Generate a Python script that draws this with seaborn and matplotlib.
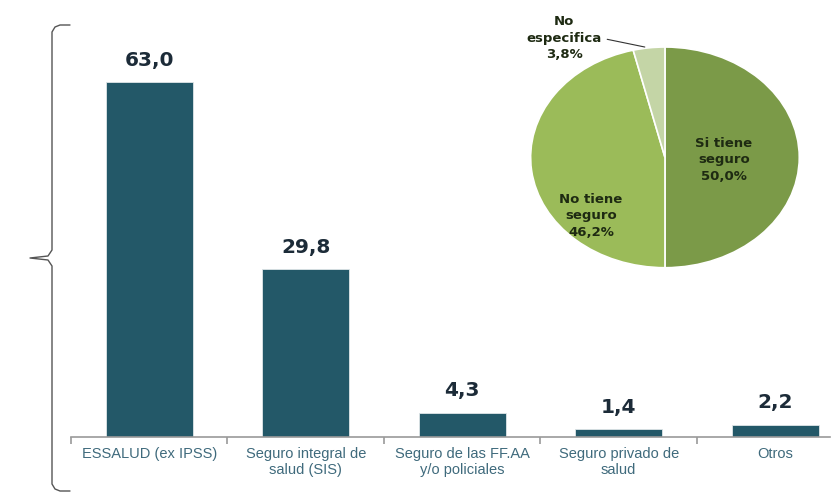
import matplotlib
matplotlib.use("Agg")
import matplotlib.pyplot as plt
import seaborn as sns
import pandas as pd
from matplotlib.lines import Line2D

# data
categorias = ["ESSALUD (ex IPSS)", "Seguro integral de\nsalud (SIS)",
              "Seguro de las FF.AA\ny/o policiales", "Seguro privado de\nsalud", "Otros"]
valores = [63.0, 29.8, 4.3, 1.4, 2.2]

pie_labels = ["Si tiene\nseguro", "No tiene\nseguro", "No\nespecifica"]
pie_vals = [50.0, 46.2, 3.8]

sns.set_theme(style="white")
plt.rcParams["font.family"] = ["Liberation Sans", "DejaVu Sans"]

fig = plt.figure(figsize=(8.38, 4.98), dpi=100)
fig.patch.set_facecolor("white")

# ---- bar chart ----
ax = fig.add_axes([0.0847, 0.1225, 0.9057, 0.791])
df = pd.DataFrame({"cat": categorias, "val": valores})
sns.barplot(data=df, x="cat", y="val", color="#235868", saturation=1,
            width=0.556, ax=ax, edgecolor="#e0e6e8", linewidth=0.6)
ax.set_xlim(-0.5, 4.35)
ax.set_ylim(0, 70)
ax.set_xlabel("")
ax.set_ylabel("")
ax.set_yticks([])
for s in ["top", "right", "left"]:
    ax.spines[s].set_visible(False)
ax.spines["bottom"].set_color("#9a9a9a")
ax.spines["bottom"].set_linewidth(1.2)
ax.set_xticks(range(5))
ax.set_xticklabels(categorias, color="#3f6a7c", fontsize=10.5)
ax.tick_params(axis="x", which="major", length=0, pad=7)
ax.set_xticks([i - 0.5 for i in range(5)], minor=True)
ax.tick_params(axis="x", which="minor", length=5, color="#9a9a9a", width=1.2, direction="out", bottom=True)
for i, v in enumerate(valores):
    ax.text(i, v + 2.2, f"{v:.1f}".replace(".", ","), ha="center", va="bottom",
            fontsize=14.5, fontweight="bold", color="#1c2b38", family="DejaVu Sans")

# ---- pie chart ----
pax = fig.add_axes([0.630, 0.458, 0.327, 0.452])
wedges, _ = pax.pie(pie_vals, startangle=90, counterclock=False,
                    colors=["#7b9a48", "#9bbb59", "#c4d5a6"],
                    wedgeprops=dict(edgecolor="white", linewidth=1.2))
pax.set_aspect("auto")
pax.set_xlim(-1.02, 1.02)
pax.set_ylim(-1.02, 1.02)
pax.axis("off")
txt_pos = [(0.44, -0.02), (-0.55, -0.53), (-0.75, 1.08)]
for (lx, ly), lab, v in zip(txt_pos, pie_labels, pie_vals):
    pax.text(lx, ly, lab + "\n" + f"{v:.1f}".replace(".", ",") + "%", ha="center", va="center",
             fontsize=9.5, fontweight="bold", color="#1e2a12", linespacing=1.35,
             family="DejaVu Sans", clip_on=False)
pax.add_line(Line2D([-0.43, -0.15], [1.07, 1.00], color="#333333", lw=0.8, clip_on=False))

# ---- left brace ----
def fx(px):
    return px / 838
def fy(py):
    return 1 - py / 498
brace_x = [70, 60, 55, 52, 52, 48, 30, 48, 52, 52, 55, 60, 70]
brace_y = [25, 25, 27, 32, 250, 256, 258, 260, 266, 484, 489, 491, 491]
fig.add_artist(Line2D([fx(x) for x in brace_x], [fy(y) for y in brace_y],
                      color="#555555", lw=1.0))

fig.savefig("out.png", dpi=100, facecolor="white")
